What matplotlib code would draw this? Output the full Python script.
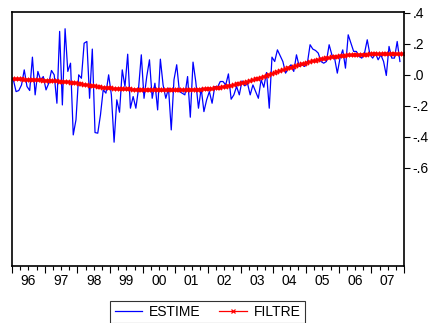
import numpy as np
import matplotlib
matplotlib.use("Agg")
import matplotlib.pyplot as plt
from matplotlib.ticker import FixedLocator, NullFormatter

# ESTIME (monthly, 1996-2007) (pixel y in a 3x crop -> value)
estime_px = [240,275,272,255,210,260,272,172,285,215,
             240,230,270,250,212,225,310,95,315,87,
             215,190,405,360,225,235,130,125,295,148,
             398,400,345,270,280,225,285,427,300,337,
             210,260,163,325,290,325,265,165,295,230,
             180,295,250,330,178,255,295,265,390,240,
             195,275,280,285,230,352,187,245,325,265,
             335,300,275,310,260,262,
             245,245,255,222,298,285,260,285,243,258,
             250,285,255,275,295,240,262,218,325,172,
             185,150,168,185,220,205,195,215,165,200,
             195,200,190,135,148,152,160,185,190,185,
             135,165,175,220,175,150,205,105,130,155,
             155,170,175,160,120,165,175,160,180,165,
             185,227,140,175,175,125,185]
estime = [round((225 - p) / 465, 3) for p in estime_px]

filtre = [-0.028,-0.029,-0.030,-0.030,-0.031,-0.032,-0.033,-0.034,-0.034,-0.035,-0.036,-0.037,
          -0.038,-0.039,-0.040,-0.041,-0.042,-0.043,-0.045,-0.046,-0.048,-0.050,-0.052,-0.054,
          -0.057,-0.060,-0.063,-0.066,-0.069,-0.072,-0.075,-0.078,-0.080,-0.082,-0.084,-0.086,
          -0.088,-0.089,-0.090,-0.091,-0.092,-0.093,-0.094,-0.094,-0.095,-0.096,-0.096,-0.097,
          -0.097,-0.098,-0.098,-0.099,-0.099,-0.099,-0.100,-0.100,-0.100,-0.100,-0.100,-0.100,
          -0.100,-0.100,-0.099,-0.099,-0.098,-0.098,-0.097,-0.097,-0.096,-0.095,-0.094,-0.093,
          -0.091,-0.089,-0.087,-0.085,-0.082,-0.079,-0.076,-0.073,-0.070,-0.066,-0.062,-0.058,
          -0.054,-0.050,-0.045,-0.040,-0.035,-0.030,-0.024,-0.018,-0.012,-0.006,0.000,0.006,
          0.012,0.018,0.024,0.030,0.036,0.042,0.047,0.053,0.058,0.063,0.068,0.073,
          0.078,0.083,0.087,0.091,0.095,0.099,0.103,0.106,0.109,0.112,0.115,0.117,
          0.119,0.121,0.123,0.125,0.126,0.127,0.128,0.129,0.130,0.131,0.131,0.132,
          0.132,0.132,0.133,0.133,0.133,0.133,0.133,0.133,0.133,0.133,0.133,0.133]

years = list(range(1996, 2008))
year_labels = ["96","97","98","99","00","01","02","03","04","05","06","07"]
ytick_vals = [-0.6, -0.4, -0.2, 0.0, 0.2, 0.4]
ytick_labels = ["-.6", "-.4", "-.2", ".0", ".2", ".4"]

plt.rcParams['font.family'] = ['Liberation Sans', 'DejaVu Sans']
FS = 10

t_est = 1996 + (np.arange(len(estime)) + 0.5) / 12
t_fil = 1996 + (np.arange(len(filtre)) + 0.5) / 12

fig = plt.figure(figsize=(4.4, 3.23), dpi=100)
W, H = 440, 323
ax = fig.add_axes([12 / W, 1 - 266 / H, (404 - 12) / W, (266 - 12) / H])

ax.plot(t_est, estime, color='#0000ff', lw=0.9, label='ESTIME')
ax.plot(t_fil, filtre, color='#ff0000', lw=1.6, marker='x', ms=3.5, mew=1.2, label='FILTRE')

ax.set_xlim(1996, 2008)
ax.set_ylim(-1.232, 0.405)

ax.yaxis.tick_right()
ax.set_yticks(ytick_vals)
ax.set_yticklabels(ytick_labels)
ax.tick_params(axis='y', direction='out', length=4, width=0.8, labelsize=FS, pad=2)

ax.xaxis.set_major_locator(FixedLocator(years + [2008]))
ax.xaxis.set_major_formatter(NullFormatter())
ax.xaxis.set_minor_locator(FixedLocator([y + q / 4 for y in years for q in (1, 2, 3)]))
ax.tick_params(axis='x', which='major', direction='out', length=5, width=0.8)
ax.tick_params(axis='x', which='minor', direction='out', length=3, width=0.8)
for y, lab in zip(years, year_labels):
    ax.text(y + 0.5, -0.03, lab, transform=ax.get_xaxis_transform(),
            ha='center', va='top', fontsize=FS)

for s in ax.spines.values():
    s.set_linewidth(1.2)
    s.set_color('black')

leg = fig.legend(loc='upper center', bbox_to_anchor=(207.5 / W, 1 - 301 / H), ncol=2,
                 frameon=True, fancybox=False, fontsize=FS, handlelength=2.0,
                 columnspacing=1.3, borderpad=0.3, borderaxespad=0.0,
                 handletextpad=0.5, numpoints=1)
leg.get_frame().set_edgecolor('black')
leg.get_frame().set_linewidth(0.8)
for h in leg.get_lines():
    h.set_linewidth(0.9)
leg.get_lines()[1].set_markersize(3)
leg.get_lines()[1].set_markeredgewidth(0.9)

fig.savefig('out.png', dpi=100)
